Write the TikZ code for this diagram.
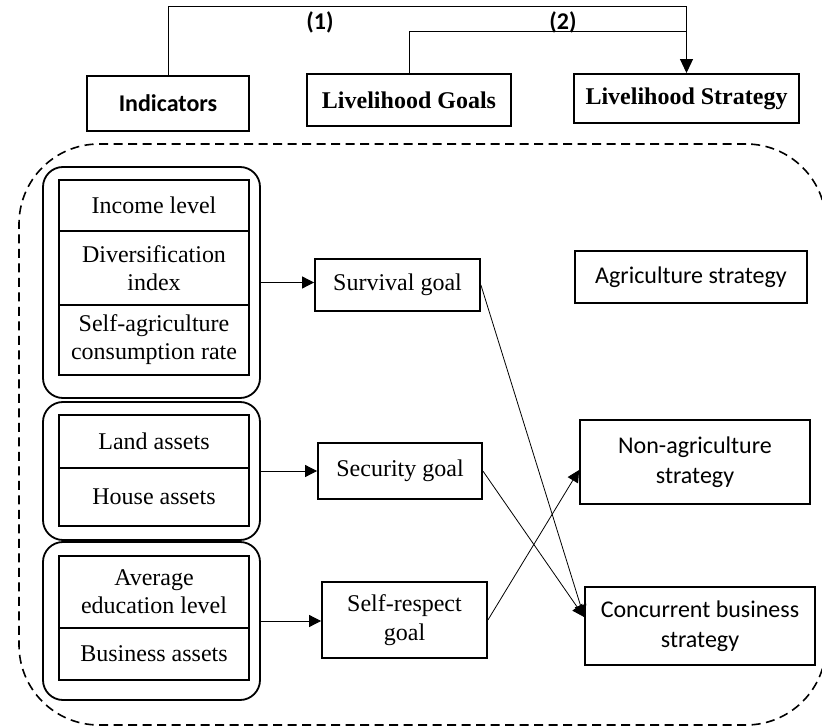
\documentclass[tikz,border=0pt]{standalone}
\usepackage{fontspec}
\setmainfont{Liberation Serif}
\newfontfamily\carlito{Carlito}
\usetikzlibrary{arrows.meta,calc}
\begin{document}
\begin{tikzpicture}[x=1pt,y=-1pt,
 hbox/.style={draw, line width=1.9pt, inner sep=0pt, align=center},
 cell/.style={draw, line width=1.4pt, minimum width=190pt, inner sep=0pt, align=center, font=\fontsize{24}{28}\selectfont},
 grp/.style={draw, line width=1.8pt, rounded corners=20pt, minimum width=217pt, inner sep=0pt},
 goal/.style={draw, line width=1.8pt, inner sep=0pt, align=center, font=\fontsize{24}{29}\selectfont},
 strat/.style={draw, line width=1.8pt, inner sep=0pt, align=center, font=\carlito\fontsize{24}{30}\selectfont},
 conn/.style={line width=0.8pt, -{Triangle[length=12pt,width=12pt]}},
 lab/.style={font=\carlito\bfseries\fontsize{24}{28}\selectfont, inner sep=0pt},
]
\useasboundingbox (0,0) rectangle (822,727);
\clip (0,0) rectangle (822,727);

% header
\node[hbox, minimum width=162pt, minimum height=55pt, font=\carlito\bfseries\fontsize{24}{28}\selectfont] (ind) at (168,103.5) {Indicators};
\node[hbox, minimum width=204pt, minimum height=52pt, font=\bfseries\fontsize{24}{28}\selectfont] (lg) at (409,100) {Livelihood Goals};
\node[hbox, minimum width=225pt, minimum height=49pt, font=\bfseries\fontsize{24}{28}\selectfont] (ls) at (686.5,98.5) {Livelihood Strategy};
\coordinate (t1) at ($(ls.north)+(0,-67)$);
\coordinate (t2) at ($(ls.north)+(0,-42)$);
\draw[line width=1pt] (ind.north) |- (t1) -- (t2);
\draw[line width=1pt, -{Triangle[length=14pt,width=13pt]}] (lg.north) |- (t2) -- (ls.north);
\node[lab] (l1) at (320,22) {(1)};
\node[lab] (l2) at (563,22) {(2)};

% dashed frame
\node[draw, line width=1.6pt, dash pattern=on 9pt off 5.5pt, rounded corners=80pt, minimum width=807pt, minimum height=581pt, inner sep=0pt] (frame) at (422.5,434.5) {};

% indicator groups
\node[grp, minimum height=231pt] (g1) at (151.5,282.5) {};
\node[grp, minimum height=138pt] (g2) at (151.5,471) {};
\node[grp, minimum height=158pt] (g3) at (151.5,621) {};

\node[cell, minimum height=51pt] (c1) at (154,205.5) {Income level};
\node[cell, minimum height=74pt] (c2) at (154,268) {Diversification\\index};
\node[cell, minimum height=70pt] (c3) at (154,340) {Self-agriculture\\consumption rate};
\node[cell, minimum height=53pt] (c4) at (154,441.5) {Land assets};
\node[cell, minimum height=58pt] (c5) at (154,497) {House assets};
\node[cell, minimum height=72pt] (c6) at (154,592) {Average\\education level};
\node[cell, minimum height=52pt] (c7) at (154,654) {Business assets};

% goals
\node[goal, minimum width=165pt, minimum height=52pt] (surv) at (397.5,285) {Survival goal};
\node[goal, minimum width=164pt, minimum height=56pt] (sec) at (400,471) {Security goal};
\node[goal, minimum width=165pt, minimum height=76pt] (selfr) at (404.5,620) {Self-respect\\goal};

% strategies
\node[strat, minimum width=232pt, minimum height=52pt] (agri) at (691,277) {Agriculture strategy};
\node[strat, minimum width=230pt, minimum height=84pt] (nonag) at (695,462) {Non-agriculture\\strategy};
\node[strat, minimum width=230pt, minimum height=78pt] (conc) at (700,626) {Concurrent business\\strategy};

% connectors
\draw[conn] (g1.east) -- (g1.east -| surv.west);
\draw[conn] (g2.east) -- (g2.east -| sec.west);
\draw[conn] (g3.east) -- (g3.east -| selfr.west);
\draw[conn] (surv.east) -- ($(conc.west)+(0,-9)$);
\draw[conn] (sec.east) -- ($(conc.west)+(0,-9)$);
\draw[conn] (selfr.east) -- ($(nonag.west)+(0,8)$);
\end{tikzpicture}
\end{document}
